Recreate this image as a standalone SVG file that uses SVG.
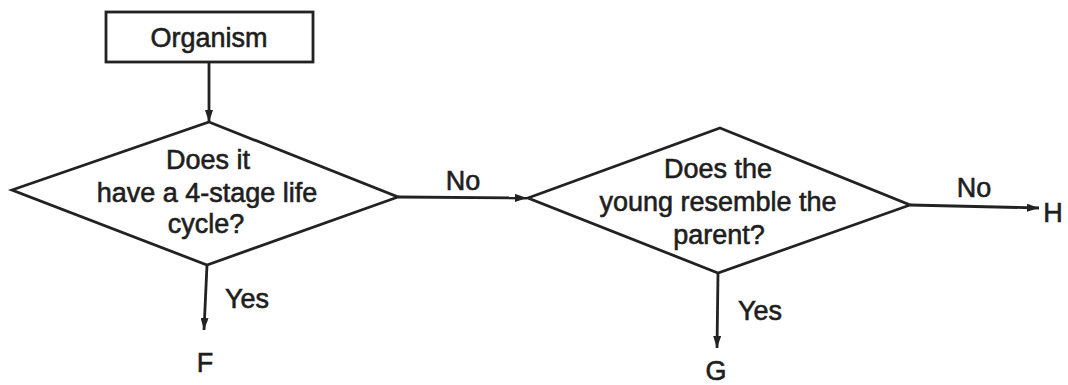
<svg xmlns="http://www.w3.org/2000/svg" width="1068" height="385" viewBox="0 0 1068 385">
  <style>
    .shape { fill: #ffffff; stroke: #222222; stroke-width: 2.8; stroke-linejoin: miter; }
    .conn { fill: none; stroke: #222222; stroke-width: 2.8; marker-end: url(#arrow); }
    text { font-family: "Liberation Sans", Arial, sans-serif; font-size: 27px; fill: #1e1e1e; stroke: #1e1e1e; stroke-width: 0.6; }
    .c { text-anchor: middle; }
  </style>
  <defs>
    <marker id="arrow" markerUnits="userSpaceOnUse" markerWidth="12" markerHeight="8" refX="12" refY="4" orient="auto">
      <path d="M0,0 L12,4 L0,8 z" fill="#222222"/>
    </marker>
  </defs>
  <rect width="1068" height="385" fill="#ffffff"/>

  <g id="connectors">
    <line class="conn" x1="209" y1="62" x2="209" y2="122"/>
    <line class="conn" x1="398" y1="197" x2="527" y2="198"/>
    <line class="conn" x1="207" y1="265" x2="204" y2="330"/>
    <line class="conn" x1="718" y1="273" x2="717" y2="348"/>
    <line class="conn" x1="910" y1="205" x2="1039" y2="208"/>
    <text x="463" y="190" class="c">No</text>
    <text x="974" y="197" class="c">No</text>
    <text x="225" y="308">Yes</text>
    <text x="738" y="320">Yes</text>
  </g>

  <g id="organism">
    <rect class="shape" x="106" y="12" width="207" height="50"/>
    <text x="209" y="47" class="c">Organism</text>
  </g>

  <g id="q1">
    <polygon class="shape" points="209,122 398,197 207,265 12,190"/>
    <text x="208" y="169" class="c">Does it</text>
    <text x="207" y="202" class="c">have a 4-stage life</text>
    <text x="206" y="233" class="c">cycle?</text>
  </g>

  <g id="q2">
    <polygon class="shape" points="720,128 910,205 718,273 528,198"/>
    <text x="718" y="178" class="c">Does the</text>
    <text x="718" y="211" class="c">young resemble the</text>
    <text x="719" y="244" class="c">parent?</text>
  </g>

  <g id="F">
    <text x="205" y="372" class="c">F</text>
  </g>
  <g id="G">
    <text x="716" y="380" class="c">G</text>
  </g>
  <g id="H">
    <text x="1053" y="222" class="c">H</text>
  </g>
</svg>
